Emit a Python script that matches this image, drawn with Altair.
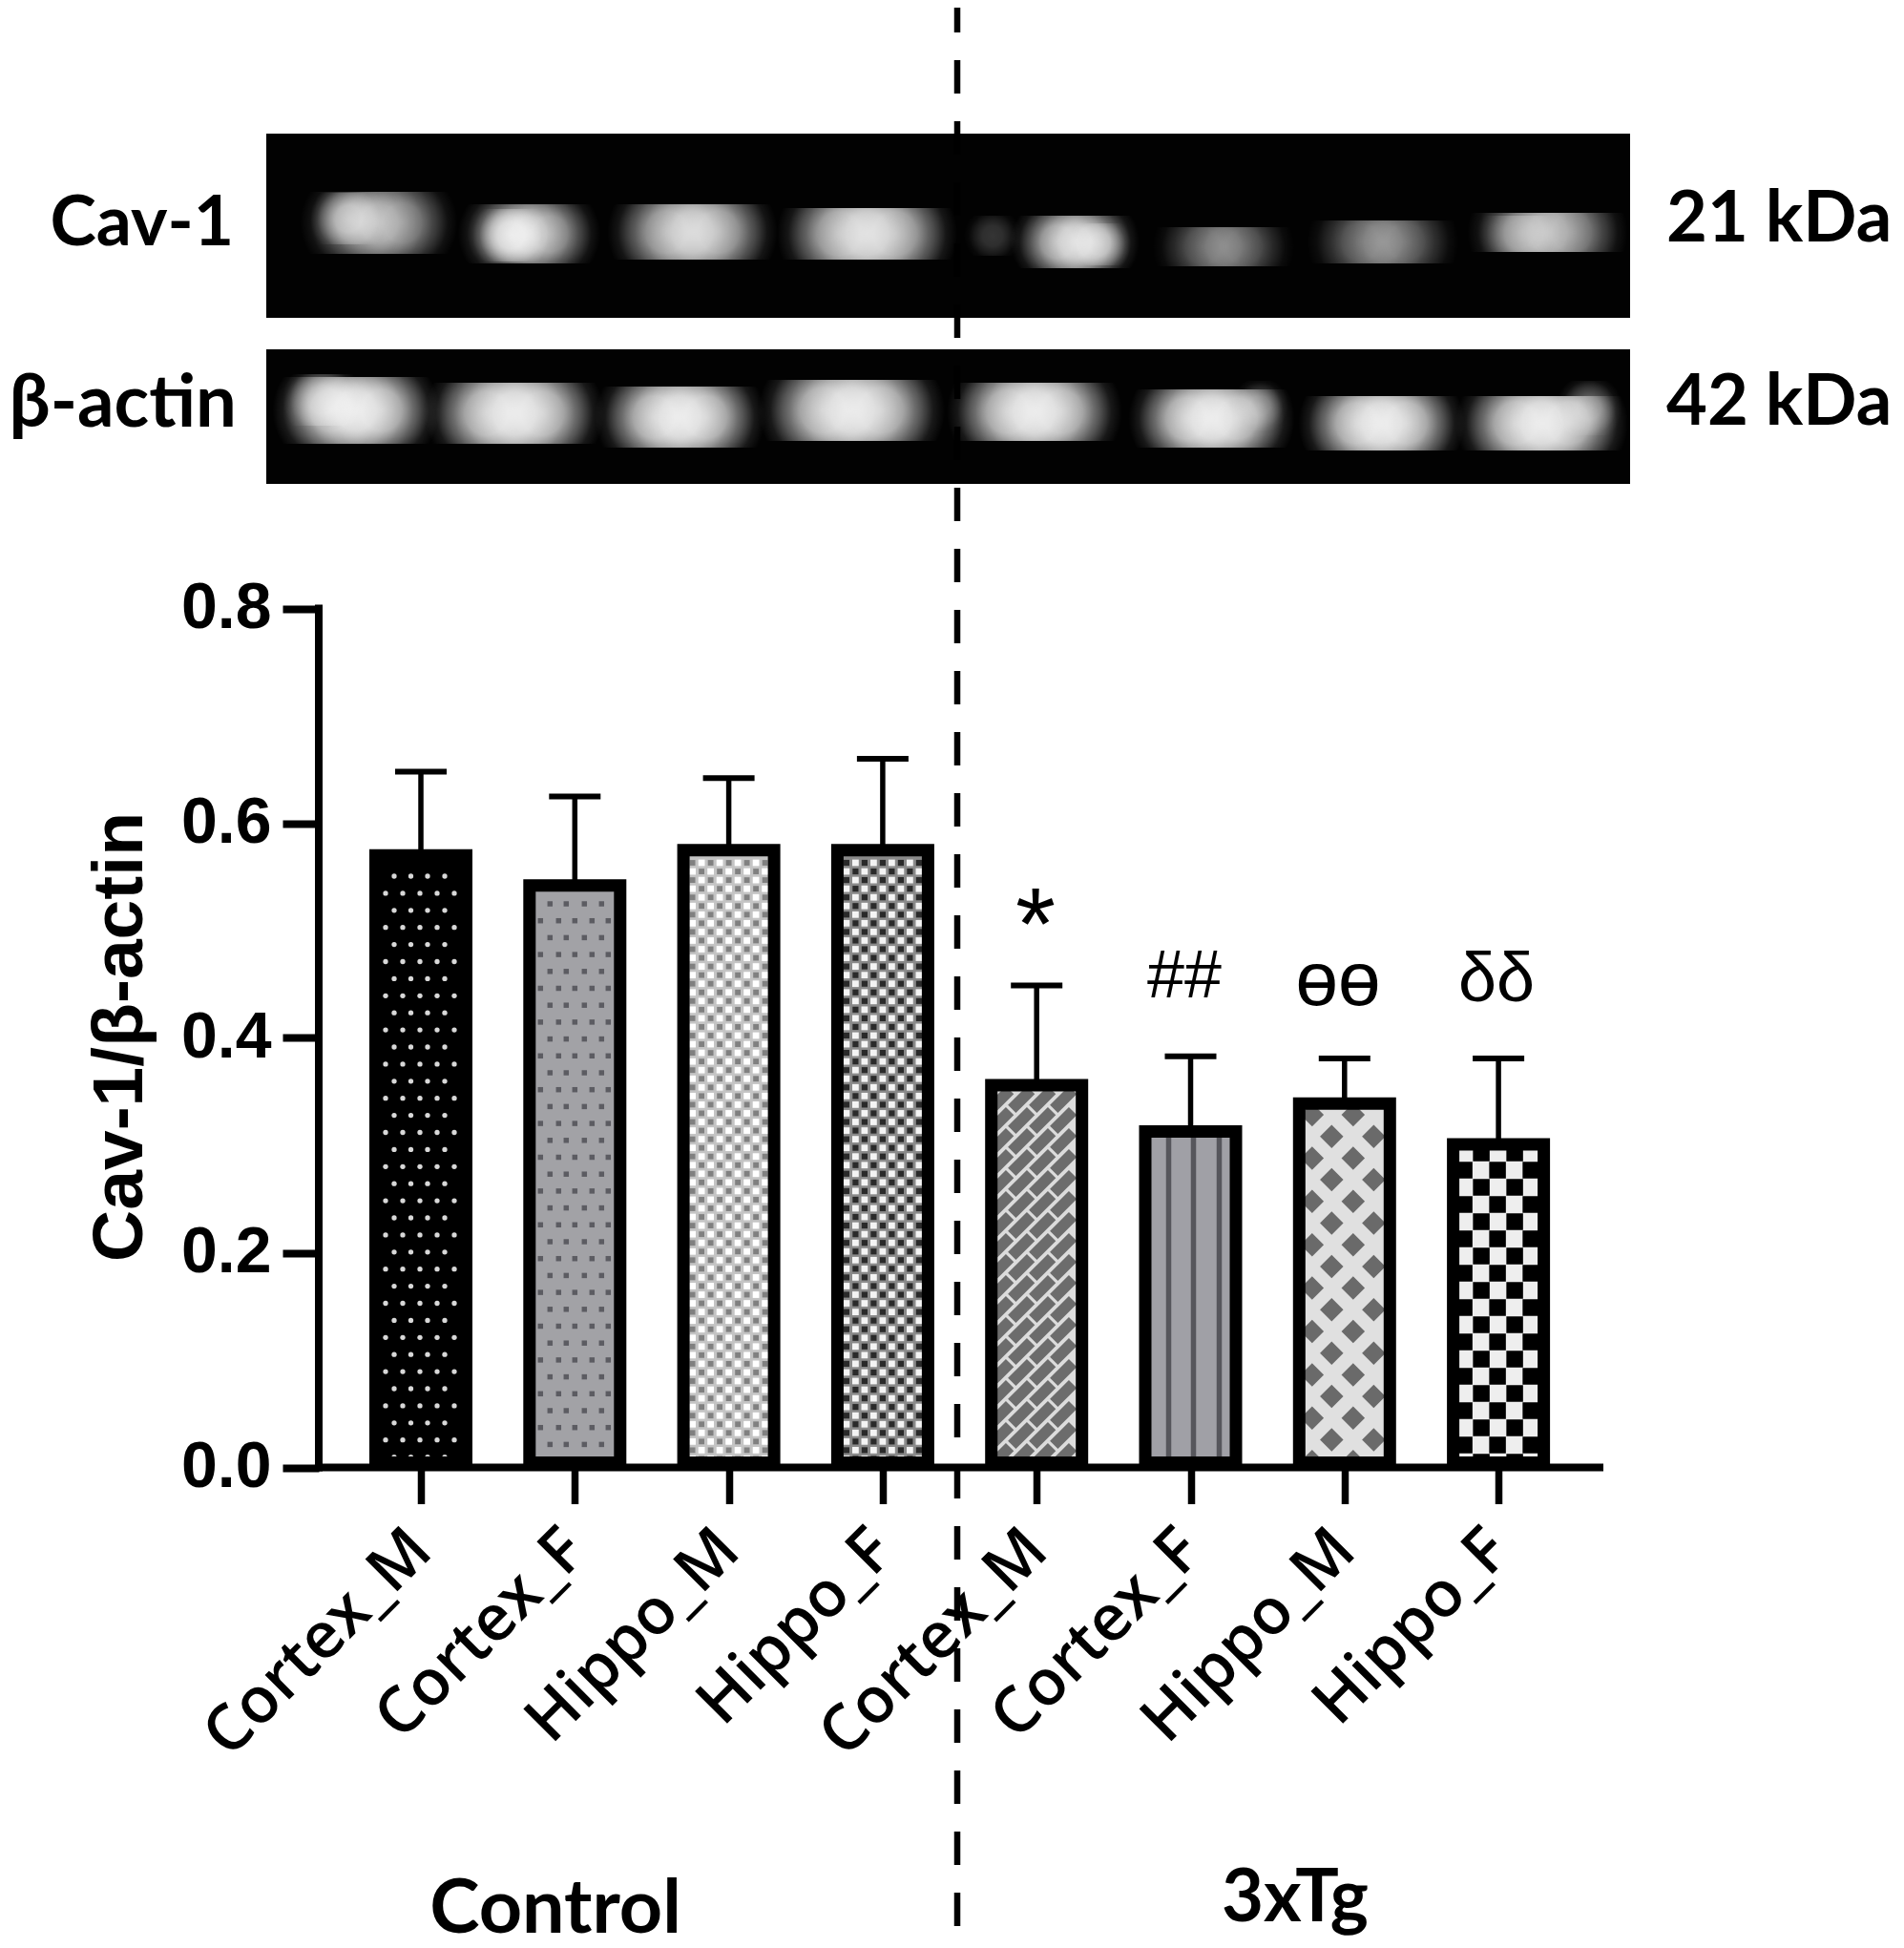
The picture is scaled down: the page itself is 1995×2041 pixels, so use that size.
import altair as alt
import pandas as pd

alt.data_transformers.disable_max_rows()

# ---------- values ----------
bar_names = ["Cortex_M", "Cortex_F", "Hippo_M", "Hippo_F", "Cortex_M", "Cortex_F", "Hippo_M", "Hippo_F"]
bar_means = [0.570, 0.542, 0.575, 0.575, 0.356, 0.313, 0.339, 0.301]
bar_tops = [0.648, 0.625, 0.642, 0.660, 0.449, 0.383, 0.381, 0.381]
bar_base = ["#000000", "#a2a2a6", "#c4c4c4", "#8a8a8a", "#dcdcdc", "#a0a0a6", "#e0e0e0", "#eeeeee"]
y_ticks = [0.0, 0.2, 0.4, 0.6, 0.8]

# reference-pixel geometry of the figure
PX_X0, PX_STEP = 441.0, 161.3   # centre of first bar, bar pitch
PX_Y0, PX_UNIT = 1537.5, 1125.0  # y=0 line, pixels per unit
PAGE = 8
W, H = 1979, 2033


def xv(p):
    return 1 + (p - PX_X0) / PX_STEP


def yv(p):
    return (PX_Y0 - p) / PX_UNIT


def dx(p):
    return p / PX_STEP


x_scale = alt.Scale(domain=[xv(PAGE), xv(PAGE + W)], nice=False, zero=False)
y_scale = alt.Scale(domain=[yv(PAGE + H), yv(PAGE)], nice=False, zero=False)

x_axis = alt.Axis(
    values=list(range(1, 9)),
    labelExpr="[" + ",".join(f"'{n}'" for n in bar_names) + "][datum.value-1]",
    orient="bottom", offset=-(PAGE + H - PX_Y0), domain=False, grid=False, title=None,
    tickSize=38, tickWidth=7.5, tickColor="#000000", zindex=1,
    labelAngle=-45, labelAlign="right", labelBaseline="middle", labelPadding=38, labelLimit=800,
    labelFont="Open Sans", labelFontWeight=600, labelFontSize=67, labelColor="#000000",
    labelOverlap=False, labelBound=False, labelFlush=False,
)
y_axis = alt.Axis(
    values=y_ticks, format=".1f",
    orient="left", offset=-(334 - PAGE), domain=False, grid=False,
    title="Cav-1/β-actin", titleFont="Liberation Sans", titleFontSize=75, titleFontWeight="bold",
    titleColor="#000000", titleAngle=270, titleAlign="center", titleBaseline="alphabetic",
    titleX=148 - 334, titleY=1086 - PAGE, titleLimit=800,
    tickSize=38, tickWidth=8, tickColor="#000000", zindex=1,
    labelFont="Liberation Sans", labelFontSize=68, labelFontWeight="bold", labelColor="#000000",
    labelPadding=12, labelOverlap=False, labelBound=False, labelFlush=False,
)


def X(f="x", **k):
    return alt.X(f"{f}:Q", scale=x_scale, axis=x_axis, **k)


def Y(f="y", **k):
    return alt.Y(f"{f}:Q", scale=y_scale, axis=y_axis, **k)


# ---------- blot ----------
blot_panels = [(279, 1708, 140, 333), (279, 1708, 366, 507)]
# lane extents (x0, x1, y0, y1, brightness)
cav_bands = [
    (335, 459, 210, 257, 0.62), (500, 609, 223, 267, 0.72), (657, 794, 223, 263, 0.80), (835, 982, 227, 263, 0.86),
    (1079, 1174, 235, 272, 0.80), (1228, 1336, 247, 270, 0.38), (1390, 1508, 240, 267, 0.42), (1558, 1685, 232, 255, 0.62),
]
cav_extra = [
    (335, 395, 208, 250, 0.55), (505, 565, 225, 268, 0.7), (1130, 1175, 240, 272, 0.45), (1020, 1060, 232, 262, 0.2),
    (1560, 1625, 232, 258, 0.3),
]
actin_bands = [
    (306, 440, 407, 453, 0.96), (466, 612, 413, 453, 0.96), (644, 781, 417, 457, 0.96), (816, 969, 410, 450, 0.96),
    (1013, 1155, 413, 450, 0.96), (1203, 1336, 420, 457, 0.96), (1381, 1514, 427, 460, 0.96), (1546, 1685, 427, 460, 0.96),
]
actin_extra = [(306, 370, 398, 440, 0.5), (1640, 1690, 405, 450, 0.4), (1300, 1340, 405, 445, 0.3)]

blob_rows = []
for group, pad_y in ((cav_bands, 9), (actin_bands, 12)):
    for bx0, bx1, by0, by1, br in group:
        w = bx1 - bx0
        pad_x = 18
        for f0, f1 in [(-0.02, 0.62), (0.19, 0.81), (0.38, 1.02)]:
            blob_rows.append(dict(x=xv(bx0 + f0 * w - pad_x), x2=xv(bx0 + f1 * w + pad_x),
                                  y=yv(by0 - pad_y), y2=yv(by1 + pad_y), o=br * 0.72))
for bx0, bx1, by0, by1, br in cav_extra + actin_extra:
    blob_rows.append(dict(x=xv(bx0 - 10), x2=xv(bx1 + 10), y=yv(by0 - 6), y2=yv(by1 + 6), o=br))

blot_df = pd.DataFrame([dict(x=xv(a), x2=xv(b), y=yv(c), y2=yv(d)) for a, b, c, d in blot_panels])
blot = alt.Chart(blot_df).mark_rect(fill="#020202").encode(x=X(), x2="x2:Q", y=Y(), y2="y2:Q")

glow = alt.RadialGradient(
    gradient="radial",
    stops=[
        alt.GradientStop(offset=0, color="rgba(255,255,255,1)"),
        alt.GradientStop(offset=0.35, color="rgba(255,255,255,0.88)"),
        alt.GradientStop(offset=0.62, color="rgba(255,255,255,0.48)"),
        alt.GradientStop(offset=0.82, color="rgba(255,255,255,0.13)"),
        alt.GradientStop(offset=1, color="rgba(255,255,255,0)"),
    ],
)
bands = alt.Chart(pd.DataFrame(blob_rows)).mark_rect(fill=glow).encode(
    x=X(), x2="x2:Q", y=Y(), y2="y2:Q", opacity=alt.Opacity("o:Q", scale=None)
)

# ---------- bars ----------
HALF = 47.5
bars_df = pd.DataFrame({
    "i": list(range(1, 9)),
    "name": bar_names,
    "mean": bar_means,
    "top": bar_tops,
    "base": bar_base,
})
bars_df["x"] = bars_df["i"] - dx(HALF)
bars_df["x2"] = bars_df["i"] + dx(HALF)
bars_df["cap0"] = bars_df["i"] - dx(27)
bars_df["cap1"] = bars_df["i"] + dx(27)
bars_df["zero"] = 0.0

base_fill = alt.Chart(bars_df).mark_rect().encode(
    x=X(), x2="x2:Q", y=Y("mean"), y2="zero:Q", fill=alt.Fill("base:N", scale=None)
)
outline = alt.Chart(bars_df).mark_rect(filled=False, stroke="#000000", strokeWidth=13, y2Offset=-5).encode(
    x=X(), x2="x2:Q", y=Y("mean"), y2="zero:Q"
)
stems = alt.Chart(bars_df).mark_rule(stroke="#000000", strokeWidth=5.5).encode(
    x=X("i"), y=Y("mean"), y2="top:Q"
)
caps = alt.Chart(bars_df).mark_rule(stroke="#000000", strokeWidth=6).encode(
    x=X("cap0"), x2="cap1:Q", y=Y("top")
)

# ---------- fill textures, one lattice per bar ----------
rows = []
INNER = 41
BOTTOM = 1531


def cx(i):
    return PX_X0 + i * PX_STEP


def put(i, rel, py, mark, size, color, angle=0):
    rows.append(dict(x=xv(cx(i) + rel), y=yv(py), m=mark, s=size, c=color, a=angle))


def staggered(i, first_y, pitch, row_a, row_b, mark, size, color):
    py, k = first_y, 0
    while py < BOTTOM:
        for rel in (row_a if k % 2 == 0 else row_b):
            put(i, rel, py, mark, size, color)
        py += pitch
        k += 1


# 1: light pin dots on black, 2: dark dots on grey
staggered(0, 918, 17.9, [-28, -10.5, 7, 25], [-37, -19, -1, 17, 35], "circle", 28, "#d8d8d8")
staggered(1, 947, 17.7, [-26, -9, 10, 28], [-36, -17, 0, 18, 35], "square", 30, "#5c5c62")


def checker(i, cell_x, cell_y, start_y, even, odd):
    r = 0
    py = start_y
    while py < BOTTOM + 4:
        c = 0
        rel = -INNER + 3
        while rel <= INNER:
            spec = even if (r + c) % 2 == 0 else odd
            if spec:
                put(i, rel, py, "square", spec[0], spec[1])
            rel += cell_x
            c += 1
        py += cell_y
        r += 1


# 3, 4: fine checks
checker(2, 9.5, 9.05, 904, (34, "#808080"), (46, "#ffffff"))
checker(3, 9.5, 9.05, 904, (38, "#2a2a2a"), (46, "#f4f4f4"))

# 5: diagonal bricks (running bond on a square lattice)
DASH = "M-1,-0.42H1V0.42H-1Z"
py = 1152
while py < BOTTOM + 6:
    rel = -38
    while rel <= INNER:
        put(4, rel, py, DASH, 784, "#6c6c6c", 315)
        rel += 22
    py += 22

# 7: diamonds
py = 1168
r = 0
while py < BOTTOM + 8:
    for rel in ([9, -34] if r % 2 == 0 else [-13.5, 30.6]):
        put(6, rel, py, "diamond", 600, "#6a6a6a")
    py += 22.7
    r += 1

# 8: large checks
py = 1208
r = 0
while py < BOTTOM + 8:
    for rel in ([-18, 17] if r % 2 == 0 else [-36, -1, 34]):
        put(7, rel, py, "square", 306, "#000000")
    py += 18
    r += 1

texture = alt.Chart(pd.DataFrame(rows)).mark_point(filled=True, opacity=1, strokeWidth=0).encode(
    x=X(), y=Y(),
    shape=alt.Shape("m:N", scale=None),
    size=alt.Size("s:Q", scale=None),
    color=alt.Color("c:N", scale=None),
    angle=alt.Angle("a:Q", scale=None),
)

# white strip just below the baseline keeps the lattices inside the bars
mask = alt.Chart(pd.DataFrame({"x": [xv(370)], "x2": [xv(1650)], "y": [yv(1538)], "y2": [yv(1570)]})).mark_rect(
    fill="#ffffff"
).encode(x=X(), x2="x2:Q", y=Y(), y2="y2:Q")

# 6: vertical stripes
stripe_rel = [-23, 3, 30]
stripes = alt.Chart(pd.DataFrame({
    "x": [xv(cx(5) + r) for r in stripe_rel],
    "y": [bar_means[5]] * 3,
    "zero": [0.0] * 3,
})).mark_rule(stroke="#56565c", strokeWidth=5.5).encode(x=X(), y=Y(), y2="zero:Q")

# ---------- axis lines ----------
y_line = alt.Chart(pd.DataFrame({"x": [xv(334)], "y": [0.0], "y2": [0.8]})).mark_rule(
    stroke="#000000", strokeWidth=8, strokeCap="square"
).encode(x=X(), y=Y(), y2="y2:Q")
x_line = alt.Chart(pd.DataFrame({"x": [xv(334)], "x2": [xv(1680)], "y": [0.0]})).mark_rule(
    stroke="#000000", strokeWidth=8
).encode(x=X(), x2="x2:Q", y=Y())

# ---------- divider ----------
divider = alt.Chart(pd.DataFrame({"x": [xv(1003)], "y": [yv(PAGE)], "y2": [yv(2033)]})).mark_rule(
    stroke="#000000", strokeWidth=6.5, strokeDash=[35, 29], strokeDashOffset=9
).encode(x=X(), y=Y(), y2="y2:Q")

# ---------- significance marks ----------
sig_text = ["*", "##", "ɵɵ", "δδ"]
sig_x = [1085, 1241, 1402, 1568]
sig_base = [1005, 1045, 1053, 1049]
sig_size = [108, 70, 80, 72]
sig = alt.Chart(pd.DataFrame({
    "x": [xv(p) for p in sig_x], "y": [yv(p) for p in sig_base], "t": sig_text, "s": sig_size,
})).mark_text(font="Liberation Sans", align="center", baseline="alphabetic", color="#000000").encode(
    x=X(), y=Y(), text="t:N", size=alt.Size("s:Q", scale=None)
)

# ---------- figure labels ----------
side_text = ["Cav-1", "β-actin"]
side_right = [245, 248]
side_base = [257, 447]
side_size = [73, 76]
side = alt.Chart(pd.DataFrame({
    "x": [xv(p) for p in side_right], "y": [yv(p) for p in side_base], "t": side_text, "s": side_size,
})).mark_text(font="Lato", fontWeight="bold", align="right", baseline="alphabetic", color="#000000").encode(
    x=X(), y=Y(), text="t:N", size=alt.Size("s:Q", scale=None)
)
kda_text = ["21 kDa", "42 kDa"]
kda_base = [253, 445]
kda = alt.Chart(pd.DataFrame({
    "x": [xv(1746)] * 2, "y": [yv(p) for p in kda_base], "t": kda_text,
})).mark_text(font="Lato", fontWeight="bold", fontSize=74, align="left", baseline="alphabetic", color="#000000").encode(
    x=X(), y=Y(), text="t:N"
)
group_text = ["Control", "3xTg"]
group_x = [582, 1357]
group_base = [2025, 2013]
group_size = [79, 76]
groups = alt.Chart(pd.DataFrame({
    "x": [xv(p) for p in group_x], "y": [yv(p) for p in group_base], "t": group_text, "s": group_size,
})).mark_text(font="Lato", fontWeight="bold", align="center", baseline="alphabetic", color="#000000").encode(
    x=X(), y=Y(), text="t:N", size=alt.Size("s:Q", scale=None)
)

chart = alt.layer(
    blot, bands, base_fill, texture, stripes, stems, caps, mask, outline,
    divider, y_line, x_line, sig, side, kda, groups,
).properties(
    width=W, height=H, padding=0, background="#ffffff",
    autosize=alt.AutoSizeParams(type="none", contains="padding"),
).configure_view(stroke=None)

chart.save("out.html", embed_options={"renderer": "svg", "actions": False})
